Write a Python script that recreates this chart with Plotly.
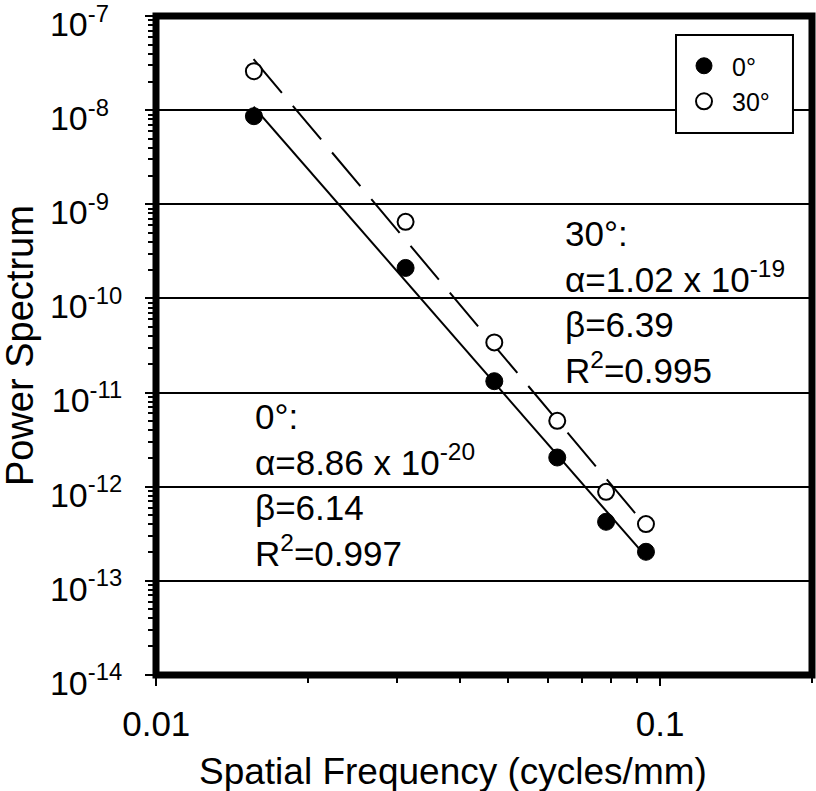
import plotly.graph_objects as go

# ---- data ----
freq = [0.015625, 0.03125, 0.046875, 0.0625, 0.078125, 0.09375]
power_0deg = [8.65e-9, 2.11e-10, 1.32e-11, 2.04e-12, 4.23e-13, 2.03e-13]
power_30deg = [2.60e-8, 6.52e-10, 3.41e-11, 5.0e-12, 8.8e-13, 4.0e-13]

fit_freq = [0.0156, 0.0938]
fit_0deg = [1.09e-8, 1.8e-13]
fit_30deg = [3.5e-8, 3.8e-13]

series_names = ["0°", "30°"]

x_tickvals = [0.01, 0.1]
x_ticktext = ["0.01", "0.1"]
y_exponents = [-14, -13, -12, -11, -10, -9, -8, -7]
y_tickvals = [10.0 ** e for e in y_exponents]
# labels are left-aligned in the reference: pad one-digit exponents with a figure space
y_ticktext = ["10<sup>%d%s</sup>" % (e, "\u2007" if e > -10 else "") for e in y_exponents]

x_minor = [0.02, 0.03, 0.04, 0.05, 0.06, 0.07, 0.08, 0.09, 0.2]
y_minor = [k * 10.0 ** e for e in range(-14, -7) for k in range(2, 10)]

text_30 = "30°:<br>α=1.02 x 10<sup>-19</sup><br>β=6.39<br>R<sup>2</sup>=0.995"
text_0 = "0°:<br>α=8.86 x 10<sup>-20</sup><br>β=6.14<br>R<sup>2</sup>=0.997"

FONT = "Liberation Sans, Arial, sans-serif"

fig = go.Figure()

# fit lines
fig.add_trace(go.Scatter(x=fit_freq, y=fit_0deg, mode="lines",
                         line=dict(color="black", width=2), showlegend=False,
                         hoverinfo="skip"))
fig.add_trace(go.Scatter(x=fit_freq, y=fit_30deg, mode="lines",
                         line=dict(color="black", width=2, dash="44px,17px"),
                         showlegend=False, hoverinfo="skip"))

# data points
fig.add_trace(go.Scatter(x=freq, y=power_0deg, mode="markers", name=series_names[0],
                         marker=dict(symbol="circle", size=17, color="black",
                                     line=dict(color="black", width=1))))
fig.add_trace(go.Scatter(x=freq, y=power_30deg, mode="markers", name=series_names[1],
                         marker=dict(symbol="circle", size=16, color="white",
                                     line=dict(color="black", width=2))))

fig.update_xaxes(
    type="log", range=[-2.0005, -0.6985], automargin=False,
    tickvals=x_tickvals, ticktext=x_ticktext,
    ticks="outside", ticklen=10, tickwidth=2, tickcolor="black",
    showgrid=False, zeroline=False, showline=False,
    ticklabelstandoff=8, ticklabeloverflow="allow",
    tickfont=dict(family=FONT, size=35, color="black"),
    minor=dict(tickvals=x_minor, ticks="outside", ticklen=7, tickwidth=1.5,
               tickcolor="black", showgrid=False),
)
fig.update_yaxes(
    type="log", range=[-14.002, -6.998], automargin=False,
    tickvals=y_tickvals, ticktext=y_ticktext,
    ticks="outside", ticklen=10, tickwidth=2, tickcolor="black",
    showgrid=True, gridcolor="black", gridwidth=1.5,
    zeroline=False, showline=False,
    ticklabelstandoff=16, ticklabelshift=8, ticklabeloverflow="allow",
    tickfont=dict(family=FONT, size=34, color="black"),
    minor=dict(tickvals=y_minor, ticks="outside", ticklen=7, tickwidth=1.5,
               tickcolor="black", showgrid=False),
)

# frame
fig.add_shape(type="rect", xref="paper", yref="paper", x0=0, x1=1, y0=0, y1=1,
              line=dict(color="black", width=7), layer="above")
# legend box
fig.add_shape(type="rect", xref="paper", yref="paper",
              x0=0.7927, x1=0.971, y0=0.8225, y1=0.9712,
              line=dict(color="black", width=2), fillcolor="white", layer="above")

# fit annotations
fig.add_annotation(x=-1.193, y=-10.035, xref="x", yref="y", text=text_30,
                   showarrow=False, xanchor="left", yanchor="middle", align="left",
                   font=dict(family=FONT, size=35, color="black"))
fig.add_annotation(x=-1.808, y=-11.985, xref="x", yref="y", text=text_0,
                   showarrow=False, xanchor="left", yanchor="middle", align="left",
                   font=dict(family=FONT, size=35, color="black"))

# axis titles
fig.add_annotation(x=0.452, y=-0.146, xref="paper", yref="paper",
                   text="Spatial Frequency (cycles/mm)", showarrow=False,
                   xanchor="center", yanchor="middle",
                   font=dict(family=FONT, size=37, color="black"))
fig.add_annotation(x=-0.208, y=0.5, xref="paper", yref="paper",
                   text="Power Spectrum", showarrow=False, textangle=-90,
                   xanchor="center", yanchor="middle",
                   font=dict(family=FONT, size=38, color="black"))

fig.update_layout(
    width=816, height=791,
    margin=dict(l=156, r=4, t=16, b=116, autoexpand=False),
    paper_bgcolor="white", plot_bgcolor="white",
    showlegend=True,
    legend=dict(x=0.7927, y=0.959, xanchor="left", yanchor="top",
                bgcolor="rgba(0,0,0,0)", borderwidth=0,
                font=dict(family=FONT, size=25, color="black"),
                itemsizing="trace", itemwidth=46, tracegroupgap=0),
)

fig.write_html("out.html", config={"displayModeBar": False},
               post_script="document.body.style.margin='0';")
